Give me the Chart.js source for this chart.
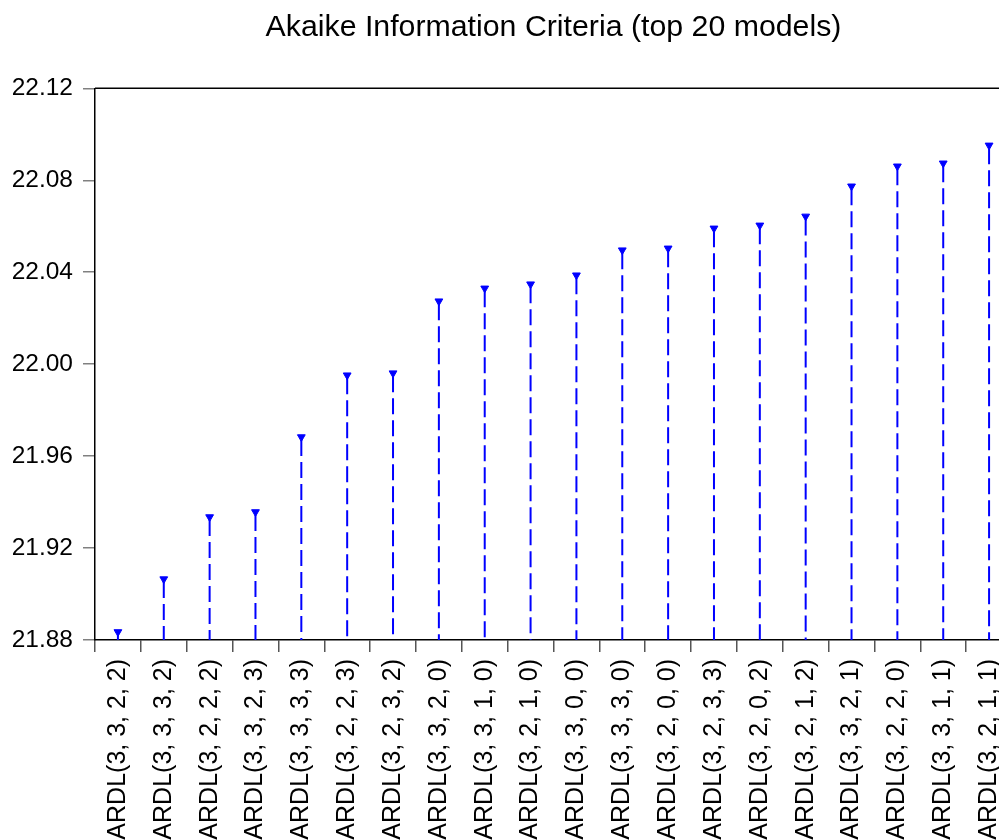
<!DOCTYPE html>
<html>
<head>
<meta charset="utf-8">
<script src="https://cdn.jsdelivr.net/npm/chart.js@4/dist/chart.umd.min.js"></script>
<style>
  html, body { margin: 0; padding: 0; background: #fff; overflow: hidden; }
  #aic { position: absolute; left: 0; top: 0; }
</style>
</head>
<body>
<canvas id="aic" width="999" height="840"></canvas>
<script>
const modelos = [
  "ARDL(3, 3, 2, 2)", "ARDL(3, 3, 3, 2)", "ARDL(3, 2, 2, 2)", "ARDL(3, 3, 2, 3)",
  "ARDL(3, 3, 3, 3)", "ARDL(3, 2, 2, 3)", "ARDL(3, 2, 3, 2)", "ARDL(3, 3, 2, 0)",
  "ARDL(3, 3, 1, 0)", "ARDL(3, 2, 1, 0)", "ARDL(3, 3, 0, 0)", "ARDL(3, 3, 3, 0)",
  "ARDL(3, 2, 0, 0)", "ARDL(3, 2, 3, 3)", "ARDL(3, 2, 0, 2)", "ARDL(3, 2, 1, 2)",
  "ARDL(3, 3, 2, 1)", "ARDL(3, 2, 2, 0)", "ARDL(3, 3, 1, 1)", "ARDL(3, 2, 1, 1)"
];
const valoresAIC = [
  21.8835, 21.9065, 21.9335, 21.9357, 21.9683, 21.9952, 21.9961, 22.0274,
  22.0330, 22.0348, 22.0387, 22.0496, 22.0504, 22.0591, 22.0604, 22.0643,
  22.0774, 22.0861, 22.0874, 22.0952
];
const ejeMin = 21.88;
const ejeMax = 22.12;
const ejePaso = 0.04;

const fuente = "'Liberation Sans', Arial, sans-serif";

// el grafico original queda cortado por la derecha: el area llega hasta x=1012
const cortePlugin = {
  id: 'corte',
  afterLayout(chart) {
    const derecha = 1012;
    const x = chart.scales.x;
    const extra = derecha - chart.chartArea.right;
    chart.chartArea.right = derecha;
    chart.chartArea.width += extra;
    x.right = derecha;
    x.width += extra;
    x.configure();
    const t = chart.titleBlock;
    if (t) {
      t.left = chart.chartArea.left;
      t.right = derecha;
      t.width = t.right - t.left;
    }
  }
};

// lineas discontinuas desde cada punto hasta el eje
const lineasPlugin = {
  id: 'lineas',
  afterDatasetsDraw(chart) {
    const ctx = chart.ctx;
    const yScale = chart.scales.y;
    const base = yScale.getPixelForValue(ejeMin);
    const meta = chart.getDatasetMeta(0);
    ctx.save();
    ctx.strokeStyle = '#0000ff';
    ctx.lineWidth = 2;
    ctx.setLineDash([16, 6]);
    for (const p of meta.data) {
      if (base - p.y < 6) continue;
      ctx.beginPath();
      ctx.moveTo(p.x, p.y + 3);
      ctx.lineTo(p.x, base);
      ctx.stroke();
    }
    ctx.restore();
  },
  afterDraw(chart) {
    const a = chart.chartArea;
    const ctx = chart.ctx;
    ctx.save();
    ctx.strokeStyle = '#000';
    ctx.lineWidth = 1.5;
    ctx.beginPath();
    ctx.moveTo(a.left, a.top);
    ctx.lineTo(a.right, a.top);
    ctx.lineTo(a.right, a.bottom);
    ctx.stroke();
    ctx.restore();
  }
};

new Chart(document.getElementById('aic').getContext('2d'), {
  type: 'line',
  data: {
    labels: modelos,
    datasets: [{
      data: valoresAIC,
      showLine: false,
      pointStyle: 'triangle',
      rotation: 180,
      pointRadius: 4.5,
      pointBackgroundColor: '#0000ff',
      pointBorderColor: '#0000ff',
      pointBorderWidth: 1,
      clip: false
    }]
  },
  options: {
    responsive: false,
    animation: false,
    layout: { padding: 0 },
    plugins: {
      legend: { display: false },
      tooltip: { enabled: false },
      title: {
        display: true,
        fullSize: false,
        text: 'Akaike Information Criteria (top 20 models)',
        color: '#000',
        font: { family: fuente, size: 30.3, weight: 'normal' },
        padding: { top: 9, bottom: 43 }
      }
    },
    scales: {
      x: {
        type: 'category',
        offset: true,
        afterFit(scale) { scale.height = 200; },
        grid: { offset: true, drawOnChartArea: false, tickLength: 12, color: '#555', lineWidth: 1.5 },
        border: { color: '#000', width: 1.5 },
        ticks: {
          autoSkip: false,
          maxRotation: 90,
          minRotation: 90,
          padding: 7,
          color: '#000',
          font: { family: fuente, size: 25 }
        }
      },
      y: {
        min: ejeMin,
        max: ejeMax,
        afterFit(scale) { scale.width = 95; },
        grid: { drawOnChartArea: false, tickLength: 12, color: '#808080', lineWidth: 1.5 },
        border: { color: '#000', width: 1.5 },
        ticks: {
          stepSize: ejePaso,
          padding: 10,
          color: '#000',
          font: { family: fuente, size: 24.5 },
          callback: v => v.toFixed(2)
        }
      }
    }
  },
  plugins: [cortePlugin, lineasPlugin]
});
</script>
</body>
</html>
